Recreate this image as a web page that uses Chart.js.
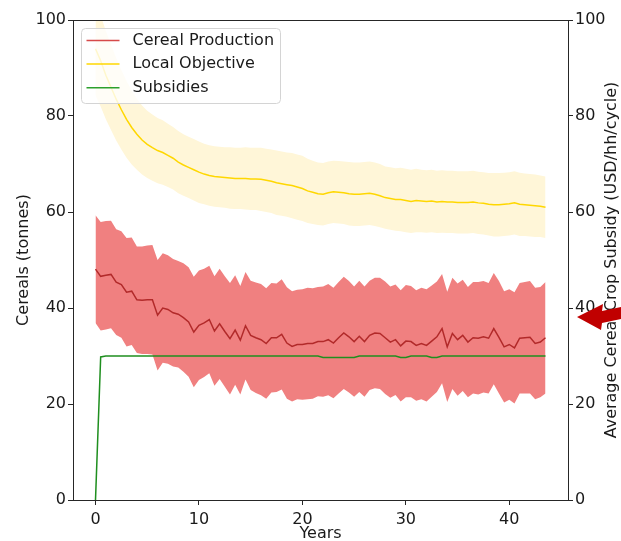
<!DOCTYPE html>
<html>
<head>
<meta charset="utf-8">
<script src="https://cdn.jsdelivr.net/npm/chart.js@4.4.1/dist/chart.umd.min.js"></script>
<style>
  html, body { margin: 0; padding: 0; background: #fff; }
</style>
</head>
<body>
<canvas id="chart" width="621" height="541"></canvas>
<script>
// mean cereal production (tonnes), one value every half year
const prodMean = [
  48.1, 46.6, 46.8, 47.0, 45.4, 44.9, 43.3, 43.5, 41.7, 41.6,
  41.7, 41.7, 38.5, 40.0, 39.7, 39.0, 38.7, 38.0, 37.1, 35.0,
  36.4, 36.9, 37.6, 35.2, 36.7, 35.1, 33.6, 35.4, 33.3, 36.3,
  34.3, 33.8, 33.4, 32.6, 33.8, 33.8, 34.5, 32.7, 32.0, 32.4,
  32.4, 32.6, 32.6, 33.0, 33.0, 33.4, 32.7, 33.8, 34.8, 34.0,
  33.0, 34.1, 33.0, 34.3, 34.8, 34.7, 33.8, 32.9, 33.4, 32.1,
  33.1, 33.0, 32.2, 32.6, 32.2, 33.1, 34.0, 35.7, 31.9, 34.7,
  33.4, 34.3, 32.9, 33.8, 33.7, 34.0, 33.7, 35.7, 33.9, 31.9,
  32.4, 31.7, 33.7, 33.8, 33.9, 32.6, 32.9, 33.8
];
// spread of the production band
const prodStd = [
  11.2, 11.3, 11.3, 11.2, 11.0, 11.1, 11.3, 11.2, 11.1, 11.2,
  11.3, 11.4, 11.5, 11.4, 11.3, 11.2, 11.1, 11.3, 11.4, 11.5,
  11.4, 11.3, 11.2, 11.4, 11.5, 11.5, 11.6, 11.4, 11.3, 11.2,
  11.4, 11.5, 11.6, 11.5, 11.4, 11.3, 11.5, 11.6, 11.5, 11.4,
  11.5, 11.6, 11.5, 11.4, 11.5, 11.6, 11.5, 11.6, 11.7, 11.6,
  11.5, 11.6, 11.5, 11.4, 11.5, 11.6, 11.7, 11.6, 11.5, 11.6,
  11.7, 11.6, 11.5, 11.6, 11.7, 11.6, 11.5, 11.4, 11.5, 11.6,
  11.7, 11.6, 11.5, 11.6, 11.7, 11.6, 11.5, 11.6, 11.7, 11.6,
  11.5, 11.6, 11.5, 11.6, 11.7, 11.6, 11.5, 11.6
];
// local objective (tonnes)
const objMean = [
  94.0, 91.5, 88.5, 86.0, 83.5, 81.3, 79.3, 77.6, 76.2, 75.0,
  74.1, 73.4, 72.8, 72.4, 71.8, 71.2, 70.4, 69.8, 69.3, 68.8,
  68.3, 67.9, 67.6, 67.4, 67.3, 67.2, 67.1, 67.0, 67.0, 67.0,
  66.9, 66.9, 66.8, 66.6, 66.4, 66.1, 65.9, 65.7, 65.5, 65.2,
  64.9, 64.4, 64.1, 63.8, 63.7, 64.0, 64.2, 64.1, 64.0, 63.8,
  63.7, 63.7, 63.8, 63.9, 63.7, 63.4, 63.0, 62.8, 62.6, 62.6,
  62.4, 62.2, 62.4, 62.3, 62.2, 62.3, 62.1, 62.2, 62.1, 62.1,
  62.0, 62.0, 62.0, 62.1, 61.9, 61.8, 61.6, 61.5, 61.5, 61.6,
  61.7, 61.9, 61.6, 61.5, 61.4, 61.3, 61.2, 61.0
];
const objStd = [
  9.8, 9.5, 9.2, 8.9, 8.6, 8.3, 8.0, 7.7, 7.4, 7.2,
  7.0, 6.9, 6.8, 6.7, 6.6, 6.5, 6.5, 6.4, 6.4, 6.4,
  6.4, 6.3, 6.3, 6.3, 6.3, 6.3, 6.4, 6.4, 6.4, 6.5,
  6.5, 6.5, 6.6, 6.6, 6.6, 6.7, 6.7, 6.7, 6.8, 6.8,
  6.8, 6.7, 6.6, 6.5, 6.5, 6.5, 6.5, 6.5, 6.5, 6.6,
  6.6, 6.6, 6.6, 6.6, 6.6, 6.6, 6.5, 6.5, 6.5, 6.6,
  6.6, 6.6, 6.6, 6.5, 6.5, 6.5, 6.5, 6.5, 6.5, 6.5,
  6.5, 6.5, 6.5, 6.5, 6.5, 6.5, 6.5, 6.6, 6.6, 6.6,
  6.6, 6.6, 6.6, 6.5, 6.5, 6.5, 6.4, 6.4
];
// average subsidy (USD/hh/cycle), right axis
const subsidies = [
  0, 29.8, 30, 30, 30, 30, 30, 30, 30, 30,
  30, 30, 30, 30, 30, 30, 30, 30, 30, 30,
  30, 30, 30, 30, 30, 30, 30, 30, 30, 30,
  30, 30, 30, 30, 30, 30, 30, 30, 30, 30,
  30, 30, 30, 30, 29.7, 29.7, 29.7, 29.7, 29.7, 29.7,
  29.7, 30, 30, 30, 30, 30, 30, 30, 30, 29.7,
  29.7, 30, 30, 30, 30, 29.7, 29.7, 30, 30, 30,
  30, 30, 30, 30, 30, 30, 30, 30, 30, 30,
  30, 30, 30, 30, 30, 30, 30, 30
];
const years = prodMean.map((_, i) => i * 0.5);
const xTicks = [0, 10, 20, 30, 40];
const legendItems = ['Cereal Production', 'Local Objective', 'Subsidies'];
const legendColours = ['#d64a4a', '#ffd700', '#2ca02c'];

const FONT = "'DejaVu Sans', sans-serif";
const AXIS = '#262626';

function xy(values) {
    return values.map((v, i) => ({x: years[i], y: v}));
}

function band(values, spread, sign) {
    return values.map((v, i) => ({x: years[i], y: v + sign * spread[i]}));
}

const extras = {
    id: 'extras',
    afterDraw(chart) {
        const ctx = chart.ctx;
        const area = chart.chartArea;
        ctx.save();

        // top spine
        ctx.strokeStyle = AXIS;
        ctx.lineWidth = 1;
        ctx.beginPath();
        ctx.moveTo(area.left, area.top + 0.5);
        ctx.lineTo(area.right, area.top + 0.5);
        ctx.stroke();

        // legend, upper left inside the plot
        const lx = area.left + 8.5, ly = area.top + 8.5, lw = 199, lh = 75;
        ctx.beginPath();
        ctx.roundRect(lx, ly, lw, lh, 4);
        ctx.fillStyle = 'rgba(255,255,255,0.8)';
        ctx.fill();
        ctx.strokeStyle = '#d4d4d4';
        ctx.stroke();
        ctx.font = '16px ' + FONT;
        ctx.textBaseline = 'middle';
        ctx.textAlign = 'left';
        legendItems.forEach((label, i) => {
            const y = ly + 12 + i * 23.6;
            ctx.strokeStyle = legendColours[i];
            ctx.lineWidth = 1.5;
            ctx.beginPath();
            ctx.moveTo(lx + 5, y);
            ctx.lineTo(lx + 38, y);
            ctx.stroke();
            ctx.fillStyle = '#1a1a1a';
            ctx.fillText(label, lx + 51, y);
        });

        // right axis title, reads bottom to top
        ctx.save();
        ctx.translate(612, (area.top + area.bottom) / 2);
        ctx.rotate(-Math.PI / 2);
        ctx.textAlign = 'center';
        ctx.fillStyle = '#1a1a1a';
        ctx.fillText('Average Cereal Crop Subsidy (USD/hh/cycle)', 0, 0);
        ctx.restore();

        // red pointer arrow at the right edge
        ctx.fillStyle = '#c00000';
        ctx.beginPath();
        ctx.moveTo(577, 317);
        ctx.lineTo(603, 304);
        ctx.lineTo(602, 311);
        ctx.lineTo(621, 307);
        ctx.lineTo(621, 319);
        ctx.lineTo(602, 323);
        ctx.lineTo(601, 330);
        ctx.closePath();
        ctx.fill();

        ctx.restore();
    }
};

Chart.defaults.font.family = FONT;
Chart.defaults.font.size = 16;
Chart.defaults.color = '#1a1a1a';

const gridOpts = {drawOnChartArea: false, drawTicks: true, tickLength: 5, color: AXIS};
const borderOpts = {display: true, color: AXIS, width: 1};

new Chart(document.getElementById('chart'), {
    type: 'line',
    data: {
        datasets: [
            {data: band(prodMean, prodStd, -1), borderColor: 'transparent', borderWidth: 0, pointRadius: 0, fill: false, order: 5},
            {data: band(prodMean, prodStd, 1), borderColor: 'transparent', borderWidth: 0, pointRadius: 0, fill: '-1', backgroundColor: '#f08080', order: 4},
            {data: band(objMean, objStd, -1), borderColor: 'transparent', borderWidth: 0, pointRadius: 0, fill: false, order: 5},
            {data: band(objMean, objStd, 1), borderColor: 'transparent', borderWidth: 0, pointRadius: 0, fill: '-1', backgroundColor: '#fff6d8', order: 4},
            {label: 'Subsidies', data: xy(subsidies), yAxisID: 'y1', borderColor: '#1f8f1f', borderWidth: 1.5, pointRadius: 0, fill: false, order: 2},
            {label: 'Local Objective', data: xy(objMean), borderColor: '#ffd700', borderWidth: 1.5, pointRadius: 0, fill: false, order: 1},
            {label: 'Cereal Production', data: xy(prodMean), borderColor: '#b22a2a', borderWidth: 1.5, pointRadius: 0, fill: false, order: 0}
        ]
    },
    options: {
        responsive: false,
        animation: false,
        layout: {padding: {top: 20, left: 0, right: 0, bottom: 0}},
        plugins: {
            legend: {display: false},
            tooltip: {enabled: false}
        },
        scales: {
            x: {
                type: 'linear',
                min: -2.175,
                max: 45.675,
                afterBuildTicks: scale => { scale.ticks = xTicks.map(v => ({value: v})); },
                afterFit: scale => { scale.height = 41; },
                ticks: {padding: 5, maxRotation: 0},
                grid: gridOpts,
                border: borderOpts,
                title: {display: true, text: 'Years', font: {size: 16, lineHeight: 0.85}, padding: 0}
            },
            y: {
                position: 'left',
                min: 0,
                max: 100,
                afterFit: scale => { scale.width = 73; },
                ticks: {stepSize: 20, padding: 2},
                grid: gridOpts,
                border: borderOpts,
                title: {display: true, text: 'Cereals (tonnes)', font: {size: 16}, padding: {top: 14, bottom: 0}}
            },
            y1: {
                position: 'right',
                min: 0,
                max: 100,
                afterFit: scale => { scale.width = 53; },
                ticks: {stepSize: 20, padding: 2},
                grid: gridOpts,
                border: borderOpts
            }
        }
    },
    plugins: [extras]
});
</script>
</body>
</html>
